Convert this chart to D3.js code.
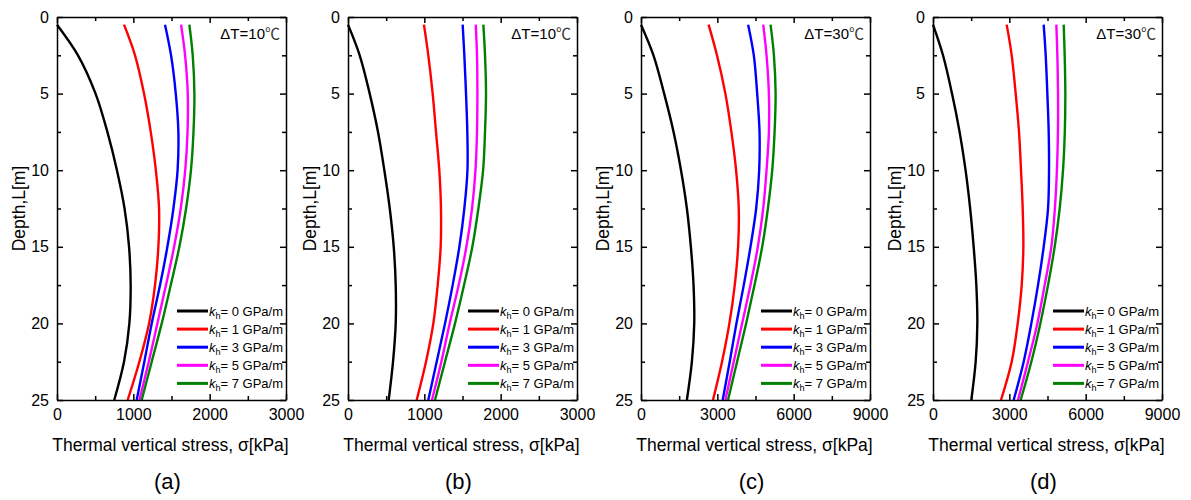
<!DOCTYPE html>
<html>
<head>
<meta charset="utf-8">
<script src="https://cdn.jsdelivr.net/npm/d3@7"></script>
<style>
  html, body { margin: 0; padding: 0; background: #fff; }
  svg { display: block; font-family: "Liberation Sans", Arial, sans-serif; }
</style>
</head>
<body>
<svg id="chart" width="1191" height="500"></svg>
<script>
// ---------- data ----------
const depths = [0.5, 2.5, 5, 7.5, 10, 12.5, 15, 17.5, 20, 22.5, 25];
const khValues = [0, 1, 3, 5, 7];
const panelLabels = ["(a)", "(b)", "(c)", "(d)"];
const deltaTValues = ["10", "10", "30", "30"];
const xMaxes = [3000, 3000, 9000, 9000];
const xTicksSmall = [0, 1000, 2000, 3000];
const xTicksLarge = [0, 3000, 6000, 9000];
const yTicks = [0, 5, 10, 15, 20, 25];

const stressA = [
  [0, 275, 505, 660, 785, 885, 944, 965, 948, 878, 750],
  [878, 1022, 1140, 1228, 1295, 1337, 1328, 1284, 1206, 1079, 926],
  [1415, 1494, 1556, 1590, 1580, 1525, 1446, 1350, 1241, 1144, 1044],
  [1625, 1678, 1713, 1710, 1680, 1621, 1534, 1428, 1315, 1202, 1079],
  [1734, 1778, 1800, 1788, 1755, 1691, 1603, 1490, 1372, 1241, 1110]
];
const stressB = [
  [0, 153, 284, 393, 476, 547, 599, 625, 625, 590, 533],
  [995, 1052, 1109, 1153, 1196, 1218, 1214, 1175, 1118, 1022, 900],
  [1502, 1524, 1546, 1563, 1565, 1524, 1459, 1371, 1271, 1162, 1052],
  [1673, 1690, 1695, 1690, 1670, 1625, 1551, 1450, 1332, 1223, 1100],
  [1773, 1795, 1808, 1795, 1770, 1708, 1629, 1520, 1402, 1271, 1140]
];
const stressC = [
  [0, 490, 910, 1280, 1572, 1803, 1960, 2065, 2092, 2000, 1803],
  [2656, 2986, 3316, 3553, 3737, 3842, 3816, 3684, 3474, 3184, 2829],
  [4210, 4434, 4566, 4658, 4645, 4526, 4303, 4039, 3750, 3487, 3211],
  [4803, 4934, 5026, 5026, 4934, 4803, 4592, 4303, 3974, 3645, 3316],
  [5092, 5224, 5290, 5250, 5158, 4987, 4763, 4461, 4132, 3776, 3421]
];
const stressD = [
  [0, 393, 747, 1045, 1280, 1460, 1598, 1703, 1742, 1677, 1507],
  [2896, 3093, 3250, 3380, 3459, 3525, 3551, 3486, 3329, 3093, 2673],
  [4350, 4429, 4494, 4547, 4560, 4521, 4350, 4127, 3865, 3564, 3171],
  [4848, 4887, 4913, 4910, 4870, 4790, 4651, 4389, 4101, 3734, 3341],
  [5136, 5175, 5201, 5180, 5110, 4979, 4782, 4520, 4219, 3865, 3446]
];
const panelData = [stressA, stressB, stressC, stressD];
const colors = ["#000000", "#ff0000", "#0000ff", "#ff00ff", "#008000"];

// ---------- layout ----------
const svg = d3.select("#chart");
const plotLefts = [57, 348, 641, 933];
const plotW = 229;
const plotTop = 17, plotBottom = 400;
const FONT = '"Liberation Sans", Arial, sans-serif';

panelData.forEach((series, p) => {
  const left = plotLefts[p], right = left + plotW;
  const xMax = xMaxes[p];
  const x = d3.scaleLinear().domain([0, xMax]).range([left, right]);
  const y = d3.scaleLinear().domain([0, 25]).range([plotTop, plotBottom]);
  const majorX = xMax === 3000 ? xTicksSmall : xTicksLarge;
  const step = majorX[1] - majorX[0];
  const minorX = majorX.slice(0, -1).map(v => v + step / 2);
  const minorY = yTicks.slice(0, -1).map(v => v + 2.5);

  const g = svg.append("g");

  // curves
  const line = d3.line()
    .x(d => x(d[0]))
    .y(d => y(d[1]))
    .curve(d3.curveCatmullRom.alpha(0.5));
  series.forEach((vals, i) => {
    g.append("path")
      .datum(vals.map((v, j) => [v, depths[j]]))
      .attr("d", line)
      .attr("fill", "none")
      .attr("stroke", colors[i])
      .attr("stroke-width", 2.4);
  });

  function styleAxis(sel) {
    sel.selectAll("path").attr("stroke", "#000").attr("stroke-width", 1.5);
    sel.selectAll("line").attr("stroke", "#000").attr("stroke-width", 1.5);
    sel.selectAll("text").attr("font-family", FONT).attr("font-size", 16).attr("fill", "#000");
  }

  // bottom axis
  const bAx = g.append("g").attr("transform", `translate(0,${plotBottom})`)
    .call(d3.axisBottom(x).tickValues(majorX).tickSizeInner(-6).tickSizeOuter(0).tickPadding(9).tickFormat(d3.format("d")));
  styleAxis(bAx);
  const bMin = g.append("g").attr("transform", `translate(0,${plotBottom})`)
    .call(d3.axisBottom(x).tickValues(minorX).tickSizeInner(-4).tickSizeOuter(0).tickFormat(""));
  styleAxis(bMin); bMin.select("path").remove();

  // top axis
  const tAx = g.append("g").attr("transform", `translate(0,${plotTop})`)
    .call(d3.axisTop(x).tickValues(majorX).tickSizeInner(-6).tickSizeOuter(0).tickFormat(""));
  styleAxis(tAx);
  const tMin = g.append("g").attr("transform", `translate(0,${plotTop})`)
    .call(d3.axisTop(x).tickValues(minorX).tickSizeInner(-4).tickSizeOuter(0).tickFormat(""));
  styleAxis(tMin); tMin.select("path").remove();

  // left axis
  const lAx = g.append("g").attr("transform", `translate(${left},0)`)
    .call(d3.axisLeft(y).tickValues(yTicks).tickSizeInner(-6).tickSizeOuter(0).tickPadding(8).tickFormat(d3.format("d")));
  styleAxis(lAx);
  const lMin = g.append("g").attr("transform", `translate(${left},0)`)
    .call(d3.axisLeft(y).tickValues(minorY).tickSizeInner(-4).tickSizeOuter(0).tickFormat(""));
  styleAxis(lMin); lMin.select("path").remove();

  // right axis
  const rAx = g.append("g").attr("transform", `translate(${right},0)`)
    .call(d3.axisRight(y).tickValues(yTicks).tickSizeInner(-6).tickSizeOuter(0).tickFormat(""));
  styleAxis(rAx);
  const rMin = g.append("g").attr("transform", `translate(${right},0)`)
    .call(d3.axisRight(y).tickValues(minorY).tickSizeInner(-4).tickSizeOuter(0).tickFormat(""));
  styleAxis(rMin); rMin.select("path").remove();

  // axis titles
  g.append("text")
    .attr("transform", `translate(${left - 38},${(plotTop + plotBottom) / 2}) rotate(-90)`)
    .attr("text-anchor", "middle")
    .attr("dy", "0.35em")
    .attr("font-family", FONT).attr("font-size", 17.5)
    .text("Depth,L[m]");
  g.append("text")
    .attr("x", (left + right) / 2 - 1).attr("y", 451)
    .attr("text-anchor", "middle")
    .attr("font-family", FONT).attr("font-size", 17.5)
    .text("Thermal vertical stress, σ[kPa]");
  g.append("text")
    .attr("x", (left + right) / 2 - 4).attr("y", 489)
    .attr("text-anchor", "middle")
    .attr("font-family", FONT).attr("font-size", 22)
    .text(panelLabels[p]);

  // delta T label
  const dt = g.append("text")
    .attr("x", right - 6).attr("y", 39)
    .attr("text-anchor", "end")
    .attr("font-family", FONT).attr("font-size", 15);
  dt.append("tspan").text(`ΔT=${deltaTValues[p]}`);
  dt.append("tspan").attr("font-family", '"Noto Sans CJK SC", sans-serif').attr("fill", "#333").text("℃");

  // legend
  const textX = right - 77;
  const leg = g.append("g");
  khValues.forEach((k, i) => {
    const ly = 311 + i * 18.1;
    leg.append("line")
      .attr("x1", textX - 32).attr("x2", textX - 1)
      .attr("y1", ly).attr("y2", ly)
      .attr("stroke", colors[i]).attr("stroke-width", 3);
    const t = leg.append("text")
      .attr("x", textX).attr("y", ly + 4.6)
      .attr("font-family", FONT).attr("font-size", 13);
    t.append("tspan").attr("font-style", "italic").text("k");
    t.append("tspan").attr("font-size", 9).attr("dy", 3).text("h");
    t.append("tspan").attr("dy", -3).text(`= ${k} GPa/m`);
  });
});
</script>
</body>
</html>
